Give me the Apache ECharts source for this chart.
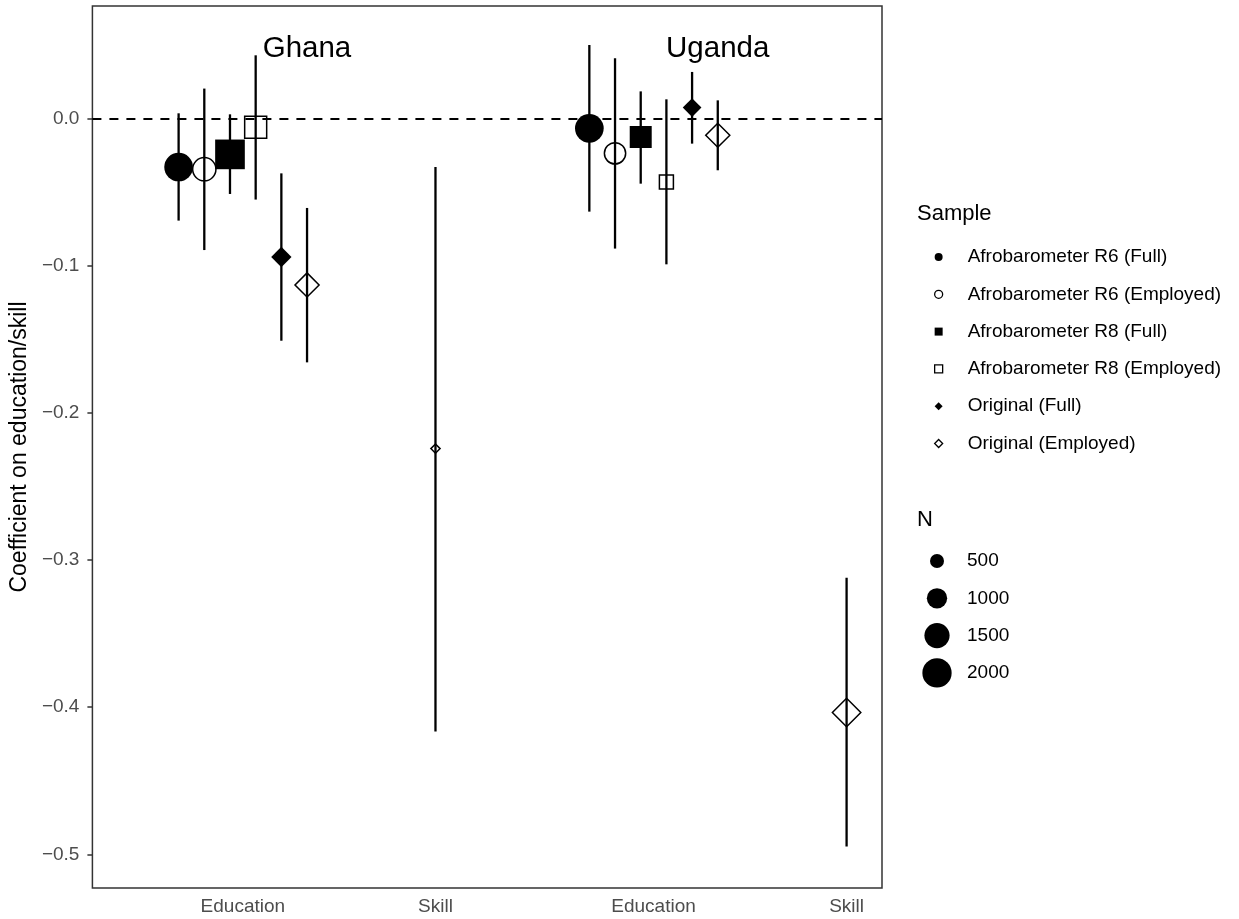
<!DOCTYPE html>
<html>
<head>
<meta charset="utf-8">
<script src="https://cdn.jsdelivr.net/npm/echarts@6/dist/echarts.min.js"></script>
<style>html,body{margin:0;padding:0;background:#fff}#chart{width:1239px;height:919px}</style>
</head>
<body>
<div id="chart"></div>
<script>
// ---- data ----
const groupX = [1, 2, 3.132, 4.134];                 // Ghana Education, Ghana Skill, Uganda Education, Uganda Skill
const xTickLabels = ['Education', 'Skill', 'Education', 'Skill'];
const yTicks = [-0.5, -0.4, -0.3, -0.2, -0.1, 0];
const sampleNames = [
  'Afrobarometer R6 (Full)',
  'Afrobarometer R6 (Employed)',
  'Afrobarometer R8 (Full)',
  'Afrobarometer R8 (Employed)',
  'Original (Full)',
  'Original (Employed)'
];
// [sample][group]
const estimate = [
  [-0.0331, null, -0.0068, null],
  [-0.0346, null, -0.0238, null],
  [-0.0245, null, -0.0127, null],
  [-0.0061, null, -0.0433, null],
  [-0.0942, null,  0.0073, null],
  [-0.1132, -0.2244, -0.0115, -0.4037]
];
const ciLow = [
  [-0.0695, null, -0.0634, null],
  [-0.0895, null, -0.0885, null],
  [-0.0514, null, -0.0444, null],
  [-0.0552, null, -0.0992, null],
  [-0.1511, null, -0.0172, null],
  [-0.1658, -0.4166, -0.0353, -0.4947]
];
const ciHigh = [
  [0.0034, null, 0.0498, null],
  [0.0202, null, 0.0408, null],
  [0.0027, null, 0.0183, null],
  [0.0428, null, 0.0129, null],
  [-0.0374, null, 0.0315, null],
  [-0.0609, -0.0331, 0.0122, -0.3121]
];
const sampleN = [
  [1920, null, 1920, null],
  [1290, null, 1090, null],
  [2050, null, 1160, null],
  [1460, null, 625, null],
  [1000, null, 855, null],
  [900, 160, 900, 1230]
];
const sizeLegendN = [500, 1000, 1500, 2000];
const countryNames = ['Ghana', 'Uganda'];
const countryLabelX = [1.333, 3.465];
const countryLabelY = [0.047, 0.047];

// ---- styles ----
const FONT = 'Liberation Sans, Arial, Helvetica, sans-serif';
const sampleSymbol = ['circle', 'circle', 'rect', 'rect', 'diamond', 'diamond'];
const sampleFilled = [true, false, true, false, true, false];
const shapeFactor = [1, 1, 1, 0.886, 1, 1.253];
const dodgeWidth = 0.8;
function diam(n) { return -1.3 + 0.684 * Math.sqrt(n); }

// dodge positions
function xPos(s, g) {
  const present = [];
  for (let i = 0; i < sampleNames.length; i++) if (estimate[i][g] !== null) present.push(i);
  const n = present.length, j = present.indexOf(s);
  return groupX[g] + (j - (n - 1) / 2) * dodgeWidth / n;
}

const errData = [];
const series = [];
for (let s = 0; s < sampleNames.length; s++) {
  const pts = [];
  for (let g = 0; g < groupX.length; g++) {
    if (estimate[s][g] === null) continue;
    const x = xPos(s, g);
    pts.push([x, estimate[s][g], sampleN[s][g]]);
    errData.push([x, ciLow[s][g], ciHigh[s][g]]);
  }
  const filled = sampleFilled[s];
  series.push({
    name: sampleNames[s],
    type: 'scatter',
    z: 5,
    symbol: sampleSymbol[s],
    symbolKeepAspect: true,
    symbolSize: (v) => diam(v[2]) * shapeFactor[s],
    data: pts,
    itemStyle: filled
      ? { color: '#000', borderWidth: 0, opacity: 1 }
      : { color: 'rgba(0,0,0,0)', borderColor: '#000', borderWidth: 1.5, opacity: 1 },
    emphasis: { disabled: true }
  });
}

series.unshift({
  name: 'ci',
  type: 'custom',
  z: 2,
  data: errData,
  encode: { x: 0, y: [1, 2] },
  renderItem: (params, api) => {
    const x = api.value(0);
    const p1 = api.coord([x, api.value(1)]);
    const p2 = api.coord([x, api.value(2)]);
    return { type: 'line', shape: { x1: p1[0], y1: p1[1], x2: p2[0], y2: p2[1] },
             style: { stroke: '#000', lineWidth: 2.3 } };
  },
  markLine: {
    silent: true, symbol: ['none', 'none'], label: { show: false },
    lineStyle: { color: '#000', type: [9, 8], width: 2.2 },
    data: [{ yAxis: 0 }]
  }
});

series.push({
  name: 'countries',
  type: 'scatter',
  z: 6,
  symbolSize: 0,
  itemStyle: { color: '#000', opacity: 1 },
  emphasis: { disabled: true },
  data: countryNames.map((c, i) => [countryLabelX[i], countryLabelY[i], c]),
  label: { show: true, position: 'inside', formatter: p => p.value[2], opacity: 1,
           fontSize: 29.5, color: '#000000', textBorderWidth: 0, fontFamily: FONT }
});

// legend titles and N legend graphics
const graphics = [
  { type: 'text', left: 917, top: 215 - 12, style: { text: 'Sample', fontSize: 22, fill: '#000', fontFamily: FONT } },
  { type: 'text', left: 917, top: 521 - 12, style: { text: 'N', fontSize: 22, fill: '#000', fontFamily: FONT } }
];
sizeLegendN.forEach((n, i) => {
  const cy = 561 + i * 37.3;
  graphics.push({ type: 'circle', shape: { cx: 937, cy: cy, r: diam(n) / 2 }, style: { fill: '#000' } });
  graphics.push({ type: 'text', x: 967, y: cy, style: { text: String(n), fontSize: 19, fill: '#000', fontFamily: FONT, verticalAlign: 'middle', align: 'left' } });
});

const fmtY = v => (v < 0 ? '\u2212' : '') + Math.abs(v).toFixed(1);

const option = {
  animation: false,
  backgroundColor: '#fff',
  textStyle: { fontFamily: FONT },
  grid: { left: 92, top: 6, width: 790, height: 882, show: true, borderColor: '#333', borderWidth: 1.5, backgroundColor: 'transparent' },
  xAxis: {
    type: 'value', min: 0.2192, max: 4.3178,
    splitLine: { show: false }, axisLine: { show: false }, axisTick: { show: false },
    axisLabel: { customValues: groupX, formatter: v => xTickLabels[groupX.findIndex(g => Math.abs(g - v) < 1e-6)],
                 fontSize: 19, color: '#4d4d4d', margin: 9, fontFamily: FONT }
  },
  yAxis: {
    type: 'value', min: -0.5229, max: 0.0763,
    name: 'Coefficient on education/skill', nameLocation: 'middle', nameGap: 58, nameRotate: 90,
    nameTextStyle: { fontSize: 23, color: '#000', fontFamily: FONT },
    splitLine: { show: false }, axisLine: { show: false },
    axisTick: { show: true, customValues: yTicks, length: 5, lineStyle: { color: '#333', width: 1.5 } },
    axisLabel: { customValues: yTicks, formatter: fmtY, fontSize: 19, color: '#4d4d4d', margin: 13, fontFamily: FONT }
  },
  legend: {
    data: sampleNames.map((n, i) => ({
      name: n,
      icon: sampleSymbol[i],
      itemStyle: sampleFilled[i]
        ? { color: '#000', borderWidth: 0 }
        : { color: 'rgba(0,0,0,0)', borderColor: '#000', borderWidth: 1.3 }
    })),
    orient: 'vertical', left: 934, top: 246, padding: 0,
    itemWidth: 8, itemHeight: 8, itemGap: 15.3, selectedMode: false, symbolKeepAspect: true,
    textStyle: { fontSize: 19, color: '#000', lineHeight: 22, fontFamily: FONT, padding: [0, 0, 0, 20] }
  },
  graphic: graphics,
  series: series
};

const chart = echarts.init(document.getElementById('chart'), null, { renderer: 'canvas' });
chart.setOption(option);
</script>
</body>
</html>
